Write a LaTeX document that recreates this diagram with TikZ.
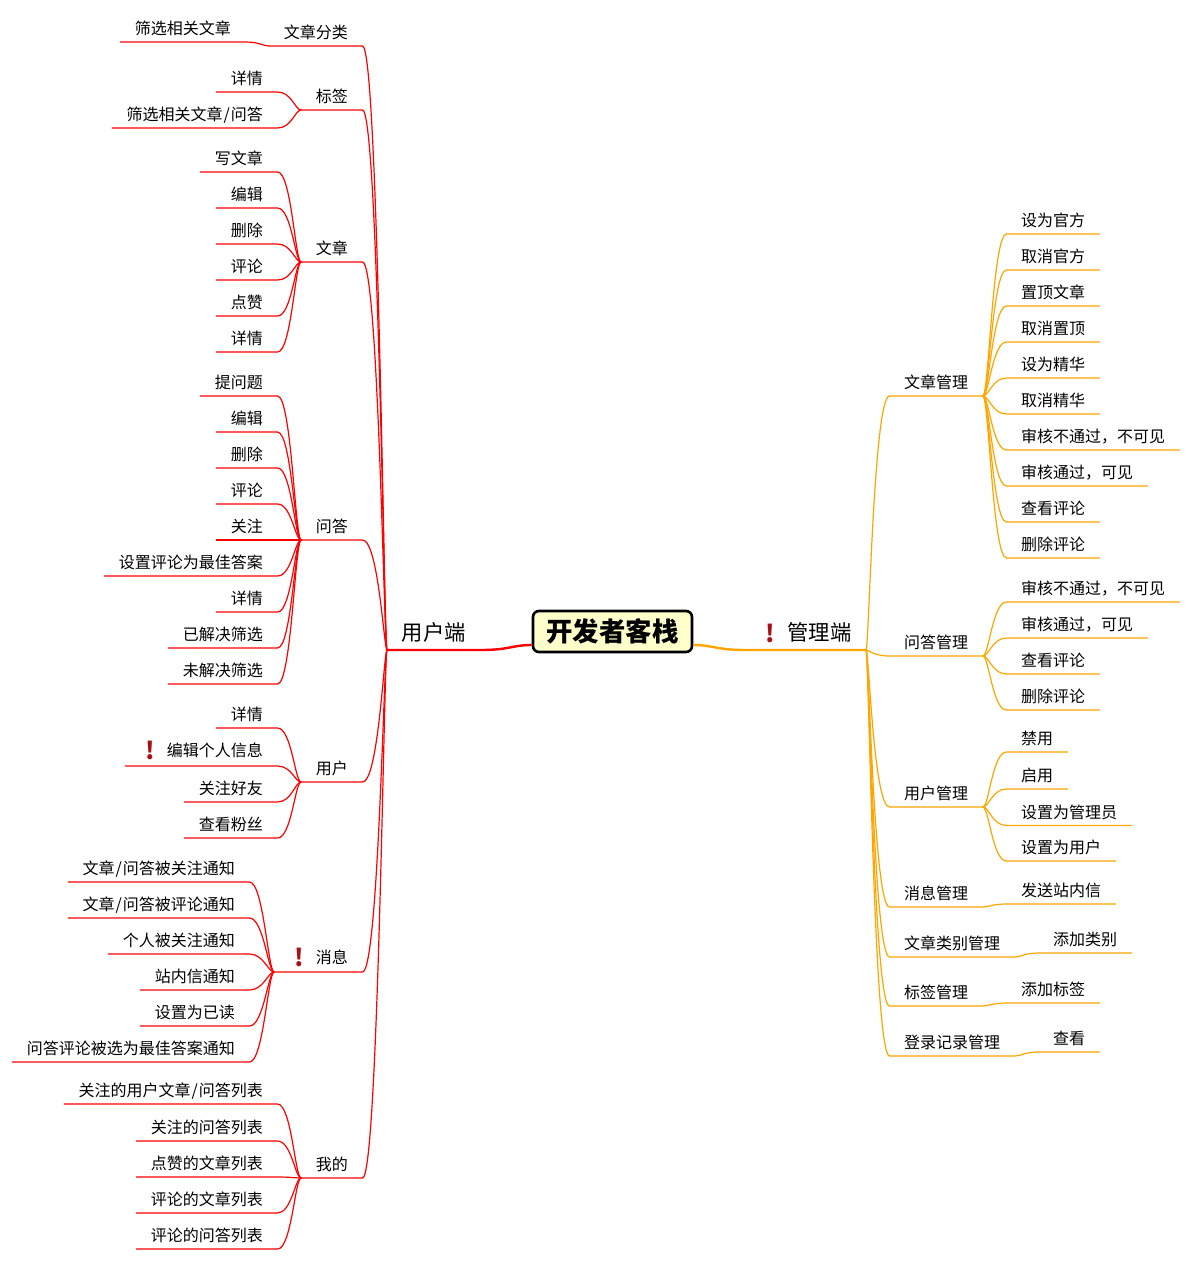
\documentclass[tikz,border=0pt]{standalone}
\usepackage{fontspec}
\setmainfont{Noto Sans CJK SC}
\usetikzlibrary{calc}
\definecolor{mapred}{RGB}{255, 0, 0}
\definecolor{maporange}{RGB}{255, 165, 0}
\definecolor{flagred}{RGB}{170, 16, 24}
\definecolor{rootfill}{RGB}{255, 255, 204}
\newcommand{\flagmark}{\makebox[27pt][l]{\makebox[20pt][c]{\raisebox{-2.6pt}{\fontsize{24}{24}\selectfont\bfseries\color{flagred}!}}}}
\newcommand{\slashmark}{\kern1pt/\kern1pt}
\tikzset{
  label/.style={inner xsep=14.5pt, inner ysep=0pt, text height=14pt, text depth=7pt, font=\fontsize{16}{16}\selectfont},
  lefttext/.style={label, anchor=south east},
  righttext/.style={label, anchor=south west},
  bigtext/.style={inner xsep=14.5pt, inner ysep=0pt, text height=20pt, text depth=9.5pt, font=\fontsize{21.3}{22}\selectfont},
  curl/.style 2 args={to path={.. controls ($(\tikztostart)+(#1,0)$) and ($(\tikztotarget)+(#2,0)$) .. (\tikztotarget)}},
  redline/.style={draw=mapred, line width=1.2pt},
  orangeline/.style={draw=maporange, line width=1.2pt},
}

\begin{document}
\begin{tikzpicture}[x=1pt, y=-1pt]
  \useasboundingbox (0,0) rectangle (1192,1262);

  % centre
  \node[draw=black, fill=rootfill, line width=2.6pt, rounded corners=6pt, minimum width=159pt, minimum height=41pt, inner sep=0pt, font=\fontsize{26.4}{28}\selectfont\bfseries] (root) at (612.5,631.5) {开发者客栈};
  \node[bigtext, anchor=south west] (user) at (387,650) {用户端};
  \node[bigtext, anchor=south east] (admin) at (866,650) {\flagmark 管理端};

  % user side
  \node[lefttext] (ucat) at (362.5,46) {文章分类};
  \node[lefttext] (ucat1) at (245.5,42) {筛选相关文章};

  \node[lefttext] (utag) at (362.5,110) {标签};
  \node[lefttext] (utag1) at (277.5,92) {详情};
  \node[lefttext] (utag2) at (277.5,128) {筛选相关文章\slashmark 问答};

  \node[lefttext] (uart) at (362.5,262) {文章};
  \node[lefttext] (uart1) at (277.5,172) {写文章};
  \node[lefttext] (uart2) at (277.5,208) {编辑};
  \node[lefttext] (uart3) at (277.5,244) {删除};
  \node[lefttext] (uart4) at (277.5,280) {评论};
  \node[lefttext] (uart5) at (277.5,316) {点赞};
  \node[lefttext] (uart6) at (277.5,352) {详情};

  \node[lefttext] (uask) at (362.5,540) {问答};
  \node[lefttext] (uask1) at (277.5,396) {提问题};
  \node[lefttext] (uask2) at (277.5,432) {编辑};
  \node[lefttext] (uask3) at (277.5,468) {删除};
  \node[lefttext] (uask4) at (277.5,504) {评论};
  \node[lefttext] (uask5) at (277.5,540) {关注};
  \node[lefttext] (uask6) at (277.5,576) {设置评论为最佳答案};
  \node[lefttext] (uask7) at (277.5,612) {详情};
  \node[lefttext] (uask8) at (277.5,648) {已解决筛选};
  \node[lefttext] (uask9) at (277.5,684) {未解决筛选};

  \node[lefttext] (uuser) at (362.5,782) {用户};
  \node[lefttext] (uuser1) at (277.5,728) {详情};
  \node[lefttext, text depth=9pt] (uuser2) at (277.5,766) {\flagmark 编辑个人信息};
  \node[lefttext] (uuser3) at (277.5,802) {关注好友};
  \node[lefttext] (uuser4) at (277.5,838) {查看粉丝};

  \node[lefttext, text depth=8pt] (umsg) at (362.5,972) {\flagmark 消息};
  \node[lefttext] (umsg1) at (249.5,882) {文章\slashmark 问答被关注通知};
  \node[lefttext] (umsg2) at (249.5,918) {文章\slashmark 问答被评论通知};
  \node[lefttext] (umsg3) at (249.5,954) {个人被关注通知};
  \node[lefttext] (umsg4) at (249.5,990) {站内信通知};
  \node[lefttext] (umsg5) at (249.5,1026) {设置为已读};
  \node[lefttext] (umsg6) at (249.5,1062) {问答评论被选为最佳答案通知};

  \node[lefttext] (umine) at (362.5,1178) {我的};
  \node[lefttext] (umine1) at (277.5,1104) {关注的用户文章\slashmark 问答列表};
  \node[lefttext] (umine2) at (277.5,1141) {关注的问答列表};
  \node[lefttext] (umine3) at (277.5,1177) {点赞的文章列表};
  \node[lefttext] (umine4) at (277.5,1213) {评论的文章列表};
  \node[lefttext] (umine5) at (277.5,1249) {评论的问答列表};

  % admin side
  \node[righttext] (aart) at (889.5,396) {文章管理};
  \node[righttext] (aart1) at (1006.5,234) {设为官方};
  \node[righttext] (aart2) at (1006.5,270) {取消官方};
  \node[righttext] (aart3) at (1006.5,306) {置顶文章};
  \node[righttext] (aart4) at (1006.5,342) {取消置顶};
  \node[righttext] (aart5) at (1006.5,378) {设为精华};
  \node[righttext] (aart6) at (1006.5,414) {取消精华};
  \node[righttext] (aart7) at (1006.5,450) {审核不通过，不可见};
  \node[righttext] (aart8) at (1006.5,486) {审核通过，可见};
  \node[righttext] (aart9) at (1006.5,522) {查看评论};
  \node[righttext] (aart10) at (1006.5,558) {删除评论};

  \node[righttext] (aask) at (889.5,656) {问答管理};
  \node[righttext] (aask1) at (1006.5,602) {审核不通过，不可见};
  \node[righttext] (aask2) at (1006.5,638) {审核通过，可见};
  \node[righttext] (aask3) at (1006.5,674) {查看评论};
  \node[righttext] (aask4) at (1006.5,710) {删除评论};

  \node[righttext] (auser) at (889.5,807) {用户管理};
  \node[righttext] (auser1) at (1006.5,752) {禁用};
  \node[righttext] (auser2) at (1006.5,789) {启用};
  \node[righttext] (auser3) at (1006.5,825.5) {设置为管理员};
  \node[righttext] (auser4) at (1006.5,861) {设置为用户};

  \node[righttext] (amsg) at (889.5,907) {消息管理};
  \node[righttext] (amsg1) at (1006.5,904) {发送站内信};

  \node[righttext] (acat) at (889.5,957) {文章类别管理};
  \node[righttext] (acat1) at (1038.5,953) {添加类别};

  \node[righttext] (atag) at (889.5,1006) {标签管理};
  \node[righttext] (atag1) at (1006.5,1003) {添加标签};

  \node[righttext] (alog) at (889.5,1056) {登录记录管理};
  \node[righttext] (alog1) at (1038.5,1052) {查看};

  % connectors
  \draw[mapred, line width=2.4pt] ([yshift=-13.5pt]root.west) to[curl={-20}{30}] (user.south east) -- (user.south west);
  \draw[maporange, line width=2.4pt] ([yshift=-13.5pt]root.east) to[curl={20}{-30}] (admin.south west) -- (admin.south east);

  \foreach \b in {ucat,utag,uart,uask,uuser,umsg,umine}
    \draw[redline] (user.south west) to[curl={-3}{16}] (\b.south east) -- (\b.south west);
  \foreach \b in {aart,aask,auser,amsg,acat,atag,alog}
    \draw[orangeline] (admin.south east) to[curl={3}{-16}] (\b.south west) -- (\b.south east);

  \draw[redline] (ucat.south west) to[curl={-6}{14}] (ucat1.south east) -- (ucat1.south west);
  \foreach \i in {1,2}
    \draw[redline] (utag.south west) to[curl={-6}{14}] (utag\i.south east) -- (utag\i.south west);
  \foreach \i in {1,...,6}
    \draw[redline] (uart.south west) to[curl={-6}{14}] (uart\i.south east) -- (uart\i.south west);
  \foreach \i in {1,...,9}
    \draw[redline] (uask.south west) to[curl={-6}{14}] (uask\i.south east) -- (uask\i.south west);
  \foreach \i in {1,...,4}
    \draw[redline] (uuser.south west) to[curl={-6}{14}] (uuser\i.south east) -- (uuser\i.south west);
  \foreach \i in {1,...,6}
    \draw[redline] (umsg.south west) to[curl={-6}{14}] (umsg\i.south east) -- (umsg\i.south west);
  \foreach \i in {1,...,5}
    \draw[redline] (umine.south west) to[curl={-6}{14}] (umine\i.south east) -- (umine\i.south west);

  \foreach \i in {1,...,10}
    \draw[orangeline] (aart.south east) to[curl={6}{-14}] (aart\i.south west) -- (aart\i.south east);
  \foreach \i in {1,...,4}
    \draw[orangeline] (aask.south east) to[curl={6}{-14}] (aask\i.south west) -- (aask\i.south east);
  \foreach \i in {1,...,4}
    \draw[orangeline] (auser.south east) to[curl={6}{-14}] (auser\i.south west) -- (auser\i.south east);
  \draw[orangeline] (amsg.south east) to[curl={6}{-14}] (amsg1.south west) -- (amsg1.south east);
  \draw[orangeline] (acat.south east) to[curl={6}{-14}] (acat1.south west) -- (acat1.south east);
  \draw[orangeline] (atag.south east) to[curl={6}{-14}] (atag1.south west) -- (atag1.south east);
  \draw[orangeline] (alog.south east) to[curl={6}{-14}] (alog1.south west) -- (alog1.south east);
\end{tikzpicture}
\end{document}
